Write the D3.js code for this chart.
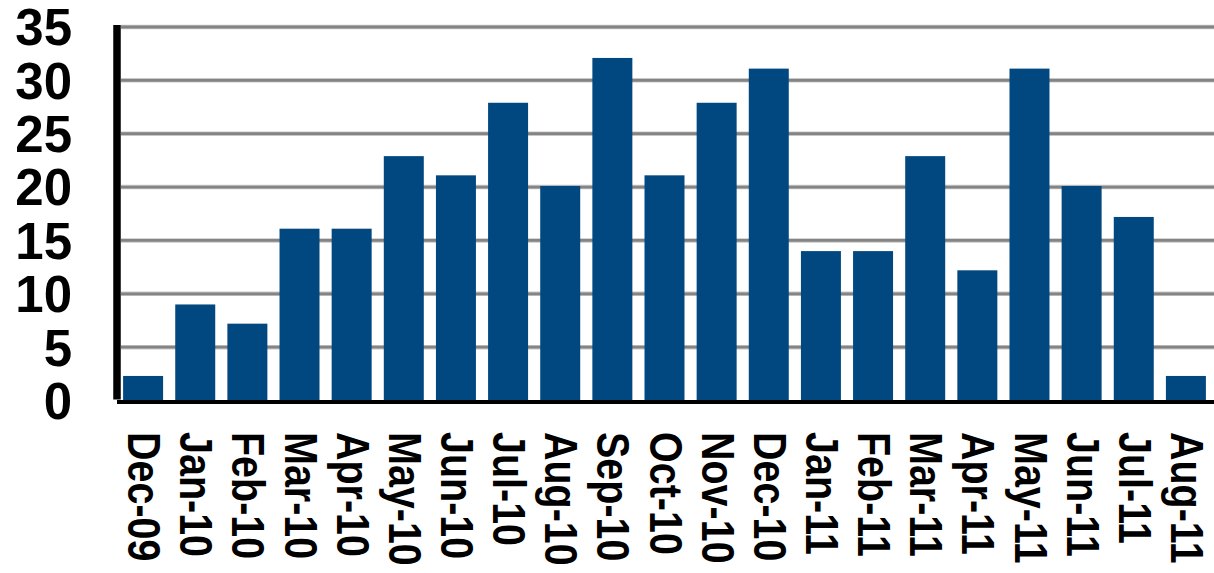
<!DOCTYPE html>
<html>
<head>
<meta charset="utf-8">
<script src="https://cdn.jsdelivr.net/npm/d3@7"></script>
<style>
  html, body { margin: 0; padding: 0; background: #ffffff; }
  svg { display: block; }
</style>
</head>
<body>
<svg id="chart" width="1214" height="573"></svg>
<script>
const categories = ["Dec-09","Jan-10","Feb-10","Mar-10","Apr-10","May-10","Jun-10","Jul-10","Aug-10","Sep-10","Oct-10","Nov-10","Dec-10","Jan-11","Feb-11","Mar-11","Apr-11","May-11","Jun-11","Jul-11","Aug-11"];
const values = [2.3, 9.0, 7.2, 16.1, 16.1, 22.9, 21.1, 27.9, 20.1, 32.1, 21.1, 27.9, 31.1, 14.0, 14.0, 22.9, 12.2, 31.1, 20.1, 17.2, 2.3];
const yTicks = [0, 5, 10, 15, 20, 25, 30, 35];

const svg = d3.select("#chart");
const W = 1214, H = 573;
const plotLeft = 117, plotRight = 1212, plotTop = 27, plotBottom = 400.5;

const x = d3.scaleBand().domain(categories).range([plotLeft, plotRight]).paddingInner(0.233).paddingOuter(0.117);
const y = d3.scaleLinear().domain([0, 35]).range([plotBottom, plotTop]);

// gridlines
svg.append("g").selectAll("line").data(yTicks.filter(d => d > 0)).join("line")
  .attr("x1", 121).attr("x2", W)
  .attr("y1", d => y(d)).attr("y2", d => y(d))
  .attr("stroke", "#c8c8c8").attr("stroke-width", 4.5);
svg.append("g").selectAll("line").data(yTicks.filter(d => d > 0)).join("line")
  .attr("x1", 121).attr("x2", W)
  .attr("y1", d => y(d)).attr("y2", d => y(d))
  .attr("stroke", "#848484").attr("stroke-width", 2.8);

// bars
svg.append("g").selectAll("rect").data(values).join("rect")
  .attr("x", (d, i) => x(categories[i]))
  .attr("width", x.bandwidth())
  .attr("y", d => y(d))
  .attr("height", d => y(0) - y(d))
  .attr("fill", "#024880");

// axis lines
svg.append("line").attr("x1", plotLeft).attr("x2", W)
  .attr("y1", y(0) + 1.5).attr("y2", y(0) + 1.5)
  .attr("stroke", "#000").attr("stroke-width", 4);
svg.append("line").attr("x1", 117).attr("x2", 117)
  .attr("y1", plotTop - 2).attr("y2", y(0) - 1)
  .attr("stroke", "#000").attr("stroke-width", 7.5);

// y labels
svg.append("g").selectAll("text").data(yTicks).join("text")
  .attr("x", 72).attr("y", d => y(d))
  .attr("dy", "0.36em")
  .attr("text-anchor", "end")
  .attr("font-family", "Liberation Sans, Arial, sans-serif")
  .attr("font-weight", "bold")
  .attr("font-size", 51)
  .attr("fill", "#000")
  .text(d => d);

// x labels
svg.append("g").selectAll("text").data(categories).join("text")
  .attr("transform", d => `translate(${x(d) + x.bandwidth() / 2 + 2},432) rotate(90) scale(0.84,1)`)
  .attr("dy", "0.36em")
  .attr("text-anchor", "start")
  .attr("font-family", "Liberation Sans, Arial, sans-serif")
  .attr("font-weight", "bold")
  .attr("font-size", 47)
  .attr("fill", "#000")
  .text(d => d);
</script>
</body>
</html>
